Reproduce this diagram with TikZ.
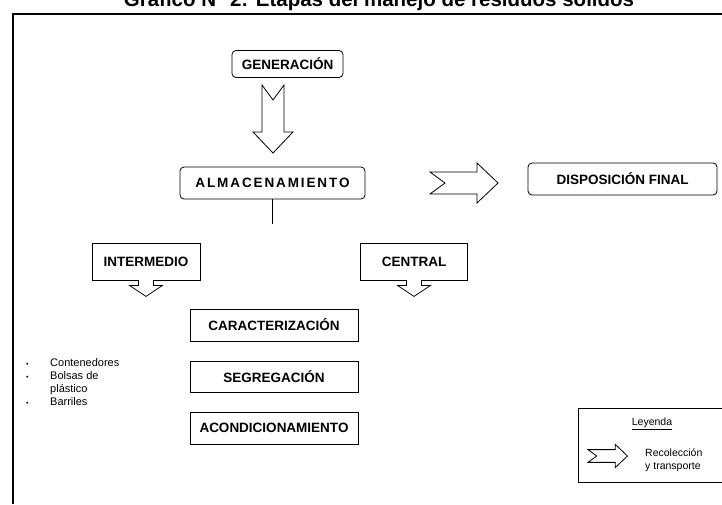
\documentclass[tikz,border=0pt]{standalone}
\usepackage{fontspec}
\setmainfont{Liberation Sans}
\usetikzlibrary{positioning}
\tikzset{
  caja/.style={draw, line width=0.8pt, rounded corners=4pt, inner sep=0pt,
    font=\fontsize{13.5}{16}\selectfont\bfseries},
  cuadro/.style={caja, rounded corners=0pt},
  pics/recoleccion/.style={code={
    \draw[line width=0.8pt, fill=white] (0,-11) -- (47,-11) -- (47,-20) -- (68,0)
      -- (47,20) -- (47,11) -- (0,11) -- (15,0) -- cycle;
  }},
  pics/punta/.style={code={
    \draw[line width=0.8pt, fill=white] (-7.5,-0.4) -- (-7.5,5) -- (-16.5,5) -- (0,16)
      -- (16.5,5) -- (7.5,5) -- (7.5,-0.4);
  }}
}
\newcommand{\punto}{{\fontsize{7}{7}\selectfont\textbullet}}

\begin{document}
\begin{tikzpicture}[x=1pt, y=-1pt]
  \useasboundingbox (0,0) rectangle (722,504);

  % titulo y marco
  \node[font=\fontsize{20.5}{24}\selectfont\bfseries, anchor=base] (titulo) at (379,6)
    {Gráfico N° 2: Etapas del manejo de residuos sólidos};
  \draw[line width=1.8pt] (722,14) -- (13,14) -- (13,504);

  \node[caja, minimum width=111pt, minimum height=27pt] (gen) at (287.5,64) {GENERACIÓN};
  \node[caja, minimum width=185pt, minimum height=32pt] (alm) at (272.5,183)
    {\addfontfeature{LetterSpace=14}ALMACENAMIENTO};
  \node[caja, minimum width=189pt, minimum height=32pt] (disp) at (622.5,179) {DISPOSICIÓN FINAL};

  \pic[rotate=-90] at (273,85) {recoleccion};
  \pic at (430,183) {recoleccion};

  \coordinate (bajada) at (272.5,224);
  \draw[line width=0.6pt] (alm.south) -- (bajada);

  \node[cuadro, minimum width=108pt, minimum height=37pt] (inter) at (146,261.5) {INTERMEDIO};
  \node[cuadro, minimum width=107pt, minimum height=37pt] (central) at (414,261.5) {CENTRAL};
  \pic at (inter.south) {punta};
  \pic at (central.south) {punta};

  \node[cuadro, minimum width=168pt, minimum height=32pt] (carac) at (274,325) {CARACTERIZACIÓN};
  \node[cuadro, minimum width=168pt, minimum height=31pt] (segr) at (274,376.5) {SEGREGACIÓN};
  \node[cuadro, minimum width=168pt, minimum height=32pt] (acond) at (274,428) {ACONDICIONAMIENTO};

  \node[anchor=north west, inner sep=0pt, font=\fontsize{11}{13}\selectfont] (lista) at (26,357)
    {\begin{tabular}{@{}p{24pt}@{}l@{}}
      \punto & Contenedores\\
      \punto & Bolsas de\\
             & plástico\\
      \punto & Barriles
    \end{tabular}};

  % leyenda
  \node[draw, line width=0.8pt, inner sep=0pt, minimum width=160pt, minimum height=74pt,
    anchor=north west] (leyenda) at (578,408) {};
  \node[font=\fontsize{10.5}{12}\selectfont] (leytit) at (652,424) {\underline{Leyenda}};
  \pic[scale=0.58] at (588,456) {recoleccion};
  \node[anchor=west, align=left, inner sep=0pt, font=\fontsize{10.5}{13.5}\selectfont] (leytxt) at (645,460)
    {Recolección\\y transporte};
\end{tikzpicture}
\end{document}
